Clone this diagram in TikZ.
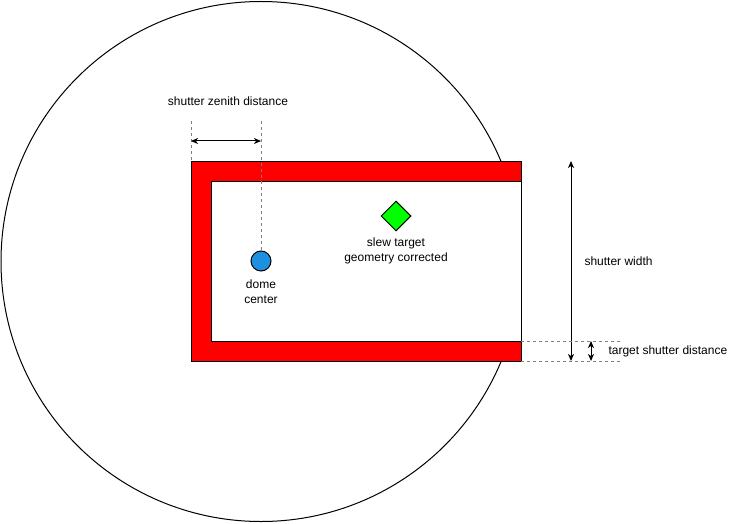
\documentclass[tikz,border=0pt]{standalone}
\usepackage{fontspec}
\setmainfont{Liberation Sans}
\usetikzlibrary{arrows.meta,shapes.geometric}
\definecolor{domeblue}{HTML}{1E90E0}
\definecolor{slewgreen}{HTML}{00FF00}
\begin{document}
\begin{tikzpicture}[x=1pt,y=-1pt,line width=1pt,
    lbl/.style={font=\fontsize{12}{15}\selectfont,inner sep=0pt,align=center},
    guide/.style={draw=gray,line width=0.8pt,dash pattern=on 3pt off 3pt},
    dim/.style={{Stealth[length=7pt,width=6pt,inset=2pt]}-{Stealth[length=7pt,width=6pt,inset=2pt]}}]
    \useasboundingbox (0,0) rectangle (744,524);

    \draw (261,261.5) circle (260);

    \draw[fill=red] (191,161) rectangle (521,361);
    \draw[fill=white] (211,181) rectangle (521,341);

    \node[circle,draw,fill=domeblue,minimum size=20pt,inner sep=0pt] (dome) at (261,261) {};
    \node[lbl] (domelbl) at (261,291.5) {dome\\center};

    \node[diamond,draw,fill=slewgreen,minimum width=30pt,minimum height=30pt,inner sep=0pt] (slew) at (396,216) {};
    \node[lbl] (slewlbl) at (396,250.5) {slew target\\geometry corrected};

    \coordinate (zenA) at (191,121);
    \coordinate (zenB) at (261,121);
    \draw[guide] (zenA) -- (191,161);
    \draw[guide] (zenB) -- (dome.north);
    \coordinate (zenL) at (191,141);
    \coordinate (zenR) at (261,141);
    \draw[dim] (zenL) -- (zenR);
    \node[lbl] (zenlbl) at (228,101) {shutter zenith distance};

    \coordinate (widT) at (571,161);
    \coordinate (widB) at (571,361);
    \draw[dim] (widT) -- (widB);
    \node[lbl,anchor=west] (widlbl) at (584,261) {shutter width};

    \coordinate (gapA) at (521,341);
    \coordinate (gapB) at (521,361);
    \draw[guide] (gapA) -- (621,341);
    \draw[guide] (gapB) -- (621,361);
    \coordinate (gapT) at (591,341);
    \coordinate (gapD) at (591,361);
    \draw[dim] (gapT) -- (gapD);
    \node[lbl,anchor=west] (gaplbl) at (608,351) {target shutter distance};

\end{tikzpicture}
\end{document}
